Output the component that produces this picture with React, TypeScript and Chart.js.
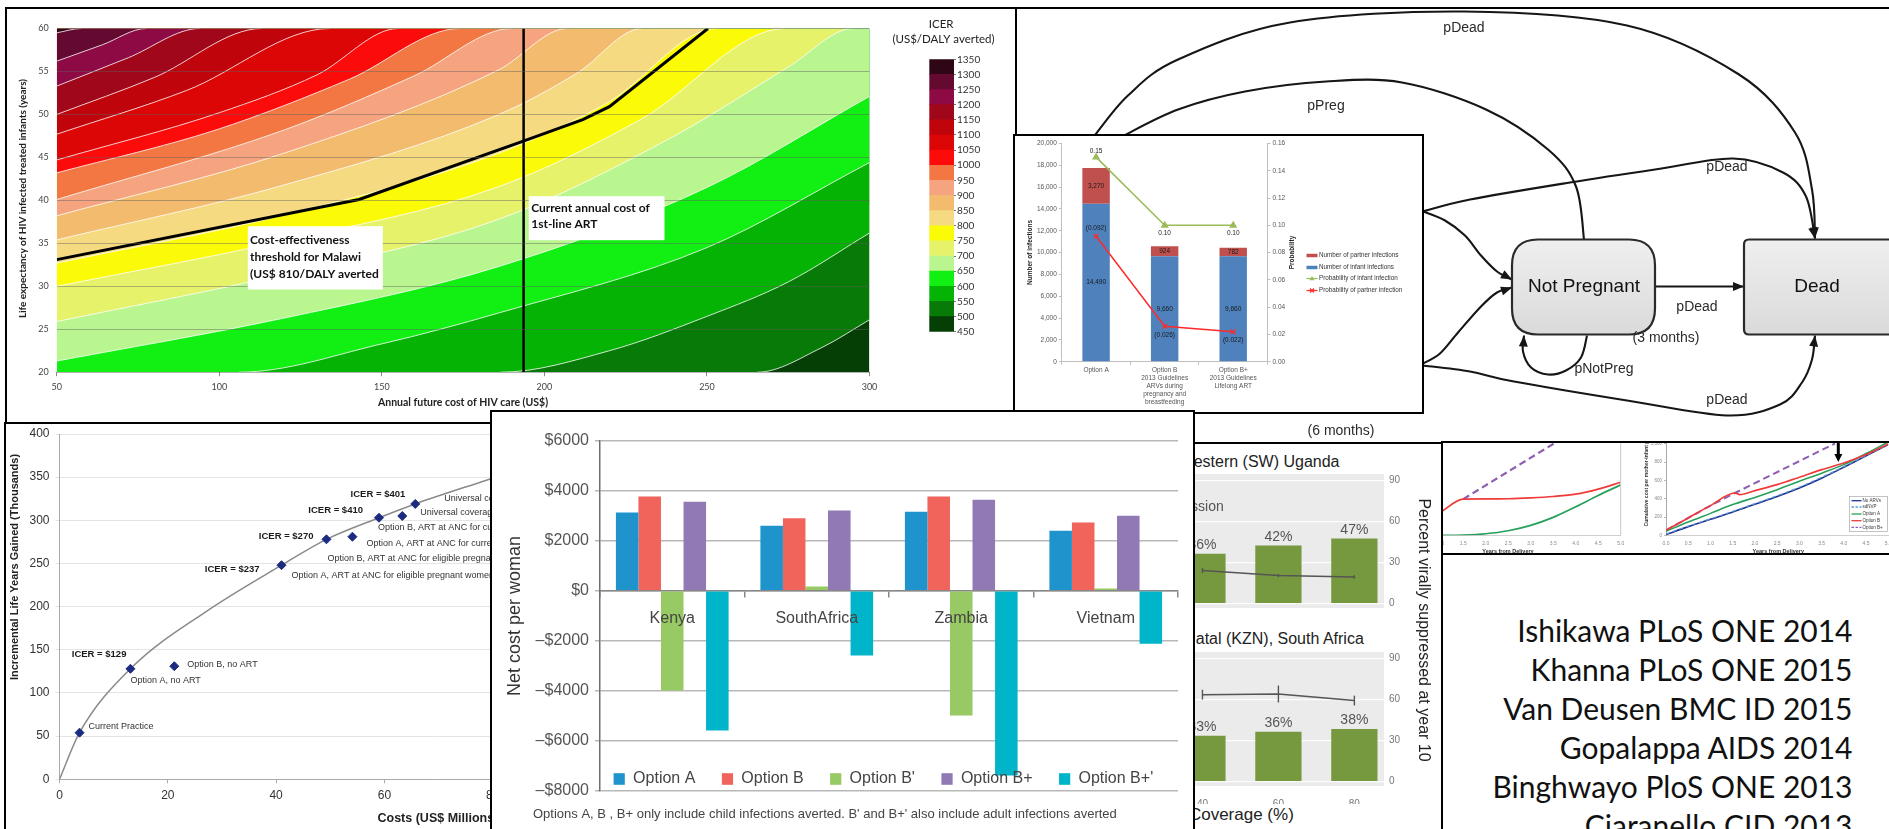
import React, { useEffect, useRef } from 'react';
import { Chart, registerables } from 'chart.js';

Chart.register(...registerables);
Chart.defaults.font.family = "'Liberation Sans', Arial, Helvetica, sans-serif";

/* ======================= DATA ======================= */

// Panel 1 – Malawi ICER contour map
const costTicks = [50, 100, 150, 200, 250, 300];
const lifeExpTicks = [20, 25, 30, 35, 40, 45, 50, 55, 60];
const icerTicks = [450, 500, 550, 600, 650, 700, 750, 800, 850, 900, 950, 1000, 1050, 1100, 1150, 1200, 1250, 1300, 1350];
const icerBandLows = [450, 500, 550, 600, 650, 700, 750, 800, 850, 900, 950, 1000, 1050, 1100, 1150, 1200, 1250, 1300];
const contour500 = [[265.5, 20], [285, 22.8], [300, 26.1]];
const contour550 = [[186.5, 20], [220, 22.5], [250, 26.5], [275, 30.5], [300, 36.2]];
const contour600 = [[106, 20], [150, 23.3], [186, 26.9], [250, 34.5], [300, 44.4]];
const contour650 = [[50, 21.3], [120, 26.3], [186, 32.3], [250, 41.5], [300, 52.1]];
const contour700 = [[50, 25.9], [120, 31.4], [186, 37.8], [240, 47.5], [275, 55.5], [295, 60]];
const contour750 = [[50, 30], [120, 35.3], [186, 41.6], [230, 49.5], [274, 60]];
const contour800 = [[50, 32.7], [120, 38.3], [186, 45.5], [220, 51.5], [253, 60]];
const contour850 = [[50, 35.4], [120, 41.8], [186, 50], [210, 54.8], [230, 60]];
const contour900 = [[50, 38.2], [120, 45.5], [186, 55.2], [207, 60]];
const contour950 = [[50, 40.1], [120, 48.2], [160, 54.5], [190, 60]];
const contour1000 = [[50, 43.2], [99, 48.2], [140, 54.1], [174, 60]];
const contour1050 = [[50, 44.7], [100, 50.2], [130, 54.6], [155, 60]];
const contour1100 = [[50, 47.7], [90, 52.8], [134, 60]];
const contour1150 = [[50, 50], [80, 54.3], [113, 60]];
const contour1200 = [[50, 53.3], [72, 56.6], [94, 60]];
const contour1250 = [[50, 56.2], [64, 58.1], [77.5, 60]];
const contour1300 = [[50, 59.5], [57.5, 60]];
const contourLines = [contour500, contour550, contour600, contour650, contour700, contour750, contour800, contour850,
  contour900, contour950, contour1000, contour1050, contour1100, contour1150, contour1200, contour1250, contour1300];
const thresholdCost = [50, 143, 193.5, 211.8, 220, 250.3];
const thresholdLifeExp = [33.1, 40.1, 46.9, 49.4, 50.9, 60];
const currentArtCost = 193.6;

// Inset – infections by option
const insetCategories = [['Option A'], ['Option B', '2013 Guidelines', 'ARVs during', 'pregnancy and', 'breastfeeding'], ['Option B+', '2013 Guidelines', 'Lifelong ART']];
const infantInfections = [14490, 9660, 9660];
const partnerInfections = [3270, 924, 782];
const probInfantInfection = [0.15, 0.10, 0.10];
const probPartnerInfection = [0.092, 0.026, 0.022];

// Panel – incremental life years vs cost
const strategyNames = ['Current Practice', 'Option A, no ART', 'Option B, no ART',
  'Option A, ART at ANC for eligible pregnant women', 'Option B, ART at ANC for eligible pregnant women',
  'Option A, ART at ANC for current eligibility', 'Option B, ART at ANC for current eligibility',
  'Universal coverage, Option A', 'Universal coverage, Option B'];
const strategyCost = [3.7, 13.1, 21.2, 41.0, 49.3, 54.1, 59.0, 63.3, 65.7];
const strategyLifeYears = [54, 128, 131, 248, 278, 281, 303, 305, 319];
const frontierCost = [0, 3.7, 13.1, 27, 41.0, 49.3, 59.0, 65.7, 78.4, 82];
const frontierLifeYears = [0, 54, 128, 194, 248, 278, 303, 319, 345.6, 353];
const icerLabels = ['ICER = $129', 'ICER = $237', 'ICER = $270', 'ICER = $410', 'ICER = $401'];
const icerLabelStrategy = [1, 3, 4, 6, 8];

// Panel – net cost per woman
const countries = ['Kenya', 'SouthAfrica', 'Zambia', 'Vietnam'];
const optionA = [3130, 2600, 3160, 2400];
const optionB = [3770, 2900, 3770, 2730];
const optionBPrime = [-3980, 170, -4980, 90];
const optionBPlus = [3560, 3210, 3640, 3000];
const optionBPlusPrime = [-5580, -2580, -7380, -2120];

// Panel – Uganda / KZN coverage
const coverageLevels = [40, 60, 80];
const swUgandaSuppressed = [36, 42, 47];
const swUgandaLine = [23.9, 20.2, 19.2];
const swUgandaErr = [1.8, 1.2, 1.3];
const kznSuppressed = [33, 36, 38];
const kznLine = [63.3, 63.8, 59.0];
const kznErr = [3.6, 6.2, 3.6];

// Panel – cumulative cost curves
const yearsLeft = [1, 1.5, 2, 2.5, 3, 3.5, 4, 4.5, 5];
const leftOptionB = [254, 396, 398, 400, 410, 425, 450, 505, 581];
const leftOptionA = [0, 3, 17, 50, 109, 196, 312, 436, 552];
const leftOptionBPlusYears = [1.5, 3.6];
const leftOptionBPlus = [396, 1030];
const yearsRight = [0, 0.5, 1, 1.5, 2, 2.5, 3, 3.5, 4, 4.5, 5];
const rightNoARVs = [8, 95, 175, 255, 340, 425, 518, 625, 745, 870, 993];
const rightSdNVP = [15, 100, 180, 262, 347, 433, 527, 635, 752, 875, 995];
const rightOptionA = [45, 145, 240, 336, 415, 500, 591, 680, 774, 895, 1022];
const rightOptionBYears = [0, 0.5, 1, 1.55, 1.66, 2, 2.5, 3, 3.5, 4, 4.5, 5];
const rightOptionB = [55, 190, 325, 463, 445, 489, 555, 635, 719, 792, 885, 1000];
const rightOptionBPlusYears = [0, 0.5, 1, 1.55, 3.8];
const rightOptionBPlus = [55, 190, 325, 463, 1005];
const yearTicks = [0, 0.5, 1, 1.5, 2, 2.5, 3, 3.5, 4, 4.5, 5];

// Citations
const citations = ['Ishikawa PLoS ONE 2014', 'Khanna PLoS ONE 2015', 'Van Deusen BMC ID 2015',
  'Gopalappa AIDS 2014', 'Binghwayo PloS ONE 2013', 'Ciaranello CID 2013'];

/* ======================= STYLES / LAYOUT ======================= */

const BAND_COLORS = ['#063f06', '#077a07', '#05b305', '#12ef12', '#b9f68f', '#e6f26a', '#fbfb08', '#f6da82', '#f3bb6e',
  '#f6a480', '#f27742', '#fc0b0b', '#dc0606', '#c0040c', '#a0071a', '#8d0a45', '#640a30', '#2e0616'];
const OPTION_COLORS = ['#1f93cc', '#f0645c', '#97c965', '#9179b5', '#00b5c9'];
const BW = 2.5;
const P_HEAT = { x: 5, y: 7, w: 1012, h: 417 };
const P_DIAG = { x: 1014.5, y: 7, w: 880, h: 437 };
const P_INSET = { x: 1013, y: 134, w: 411, h: 280 };
const P_SCAT = { x: 4, y: 421.5, w: 500, h: 420 };
const P_BAR = { x: 489.5, y: 409.5, w: 705, h: 430 };
const P_UG = { x: 1192, y: 441.5, w: 252, h: 400 };
const P_LINE = { x: 1441, y: 441, w: 455, h: 114 };
const P_TEXT = { x: 1441, y: 552.5, w: 455, h: 290 };

const O_HEAT = { x: 7.5, y: 9.5 };
const O_CBAR = { x: 925, y: 50 };
const O_DIAG = { x: 1017, y: 9.5 };
const O_INSET = { x: 1015.5, y: 136.5 };
const O_SCAT = { x: 6.5, y: 424 };
const O_BAR = { x: 492, y: 412 };
const O_UG_TOP = { x: 1060, y: 474 };
const O_UG_BOT = { x: 1060, y: 652.7 };
const O_LL = { x: 1380, y: 420 };
const O_LR = { x: 1625, y: 420 };

const strategyLabelOffsets = [[9, -6], [0, 12], [13, -2], [10, 10], [1, 19], [14, 7], [-1, 10], [18, -3], [29, -5]];
const icerLabelOffsets = [[-4, -14], [-22, 4], [-13, -3], [-16, -7], [-10, -10]];

/* ======================= HELPERS ======================= */

function noPad(s: any) { s.paddingLeft = 0; s.paddingRight = 0; s.paddingTop = 0; s.paddingBottom = 0; }
const fixWidth = (w: number) => (s: any) => { s.width = w; noPad(s); };
const fixHeight = (h: number) => (s: any) => { s.height = h; noPad(s); };
const setTicks = (vals: number[]) => (s: any) => { s.ticks = vals.map((v) => ({ value: v })); };

function drawText(ctx: any, text: string, x: number, y: number, font: string, color: string,
  align = 'left', baseline = 'middle', rotate = 0) {
  ctx.save();
  ctx.font = font; ctx.fillStyle = color; ctx.textAlign = align; ctx.textBaseline = baseline;
  ctx.translate(x, y);
  if (rotate) ctx.rotate(rotate);
  ctx.fillText(text, 0, 0);
  ctx.restore();
}
function pageCtx(chart: any, o: any) { const ctx = chart.ctx; ctx.save(); ctx.translate(-o.x, -o.y); return ctx; }

const baseOptions = {
  responsive: false, maintainAspectRatio: false, animation: false, events: [],
  plugins: { legend: { display: false }, tooltip: { enabled: false }, title: { display: false } },
};

function spline(ctx: any, pts: number[][]) {
  ctx.moveTo(pts[0][0], pts[0][1]);
  for (let i = 0; i < pts.length - 1; i++) {
    const p0 = pts[i - 1] || pts[i], p1 = pts[i], p2 = pts[i + 1], p3 = pts[i + 2] || p2;
    ctx.bezierCurveTo(p1[0] + (p2[0] - p0[0]) / 6, p1[1] + (p2[1] - p0[1]) / 6,
      p2[0] - (p3[0] - p1[0]) / 6, p2[1] - (p3[1] - p1[1]) / 6, p2[0], p2[1]);
  }
}
function arrowHead(ctx: any, tip: number[], from: number[], len = 11, half = 4.5) {
  const a = Math.atan2(tip[1] - from[1], tip[0] - from[0]);
  const bx = tip[0] - len * Math.cos(a), by = tip[1] - len * Math.sin(a);
  ctx.beginPath();
  ctx.moveTo(tip[0], tip[1]);
  ctx.lineTo(bx + half * Math.sin(a), by - half * Math.cos(a));
  ctx.lineTo(bx - half * Math.sin(a), by + half * Math.cos(a));
  ctx.closePath();
  ctx.fill();
}
function roundRectPath(ctx: any, x: number, y: number, w: number, h: number, r: number) {
  ctx.beginPath();
  ctx.moveTo(x + r, y); ctx.lineTo(x + w - r, y); ctx.quadraticCurveTo(x + w, y, x + w, y + r);
  ctx.lineTo(x + w, y + h - r); ctx.quadraticCurveTo(x + w, y + h, x + w - r, y + h);
  ctx.lineTo(x + r, y + h); ctx.quadraticCurveTo(x, y + h, x, y + h - r);
  ctx.lineTo(x, y + r); ctx.quadraticCurveTo(x, y, x + r, y); ctx.closePath();
}

/* ======================= PANEL 1: contour map ======================= */

const edgeSeg = (c: any) => {
  const a = c.p0.parsed, b = c.p1.parsed;
  if ((a.y >= 60 && b.y >= 60) || (a.y <= 20 && b.y <= 20)) return 'rgba(0,0,0,0)';
  return undefined;
};

const heatPlugin = {
  id: 'heatNotes',
  afterDraw(chart: any) {
    const ctx = pageCtx(chart, O_HEAT);
    drawText(ctx, 'Life expectancy of HIV infected treated infants (years)', 23, 199, 'bold 10px Lato', '#222', 'center', 'middle', -Math.PI / 2);
    drawText(ctx, 'Annual future cost of HIV care (US$)', 463.5, 403, 'bold 10.5px Lato', '#222', 'center');
    ctx.fillStyle = '#fff';
    ctx.fillRect(248.3, 226.7, 135, 63.3);
    ['Cost-effectiveness', 'threshold for Malawi', '(US$ 810/DALY averted'].forEach((t, i) =>
      drawText(ctx, t, 250.5, 241 + i * 16.7, 'bold 12px Lato', '#111'));
    ctx.fillStyle = '#fff';
    ctx.fillRect(529.3, 196.7, 135.7, 44);
    ['Current annual cost of', '1st-line ART'].forEach((t, i) =>
      drawText(ctx, t, 531.7, 208.7 + i * 16.3, 'bold 12px Lato', '#111'));
    drawText(ctx, 'ICER', 941.7, 25, '11.5px Lato', '#222', 'center');
    drawText(ctx, '(US$/DALY averted)', 944, 40, '11.5px Lato', '#222', 'center');
    ctx.restore();
  },
};

function heatmapConfig() {
  const ds: any[] = [];
  ds.push({ data: [{ x: 50, y: 20 }, { x: 300, y: 20 }], fill: 'end', backgroundColor: BAND_COLORS[0], borderWidth: 0, pointRadius: 0, order: 9000 });
  contourLines.forEach((pts, i) => {
    const level = icerBandLows[i + 1];
    const d = pts.map((p) => ({ x: p[0], y: p[1] }));
    if (d[0].y <= 20 && d[0].x > 50) d.unshift({ x: 50, y: 20 });
    const last = d[d.length - 1];
    if (last.y >= 60 && last.x < 300) d.push({ x: 300, y: 60 });
    ds.push({
      data: d, fill: 'end', backgroundColor: BAND_COLORS[i + 1], borderColor: BAND_COLORS[i + 1], borderWidth: 0,
      pointRadius: 0, cubicInterpolationMode: 'monotone', order: 5000 - level,
    });
    ds.push({
      data: d.map((p) => ({ ...p })), fill: false, borderColor: 'rgba(255,255,255,0.8)', borderWidth: 1,
      pointRadius: 0, cubicInterpolationMode: 'monotone', order: 3, segment: { borderColor: edgeSeg },
    });
  });
  ds.push({ data: thresholdCost.map((x, i) => ({ x, y: thresholdLifeExp[i] })), borderColor: '#000', borderWidth: 3, pointRadius: 0, fill: false, order: 2 });
  ds.push({ data: [{ x: currentArtCost, y: 20 }, { x: currentArtCost, y: 60 }], borderColor: '#000', borderWidth: 2.5, pointRadius: 0, fill: false, order: 1 });
  return {
    type: 'line',
    data: { datasets: ds },
    options: {
      ...baseOptions,
      layout: { padding: { top: 19.5, right: 144.5, left: 0, bottom: 0 } },
      scales: {
        x: {
          type: 'linear', min: 50, max: 300, afterBuildTicks: setTicks(costTicks),
          ticks: { font: { family: 'Lato', size: 9 }, color: '#444', padding: 5.5 },
          grid: { drawOnChartArea: false, tickLength: 4, color: '#888' }, border: { display: false },
          afterFit: fixHeight(48.8),
        },
        y: {
          type: 'linear', min: 20, max: 60, afterBuildTicks: setTicks(lifeExpTicks),
          ticks: { font: { family: 'Lato', size: 9 }, color: '#444', padding: 8 },
          grid: { color: 'rgba(95,95,95,0.45)', drawTicks: false, z: 1 }, border: { display: false },
          afterFit: fixWidth(49.8),
        },
      },
    },
    plugins: [heatPlugin],
  };
}

function colorbarConfig() {
  return {
    type: 'bar',
    data: {
      labels: ['ICER'],
      datasets: icerBandLows.map((lo, i) => ({
        label: `${lo}-${lo + 50}`, data: [[lo, lo + 50]], backgroundColor: BAND_COLORS[i], borderWidth: 0,
        grouped: false, barPercentage: 1, categoryPercentage: 1,
      })),
    },
    options: {
      ...baseOptions,
      layout: { padding: { left: 4.3, top: 9.3, bottom: 8.3, right: 0 } },
      scales: {
        x: { display: false },
        y: {
          position: 'right', min: 450, max: 1350, afterBuildTicks: setTicks(icerTicks),
          ticks: { font: { family: 'Lato', size: 10 }, color: '#333', padding: 1, callback: (v: any) => String(v) },
          grid: { drawOnChartArea: false, tickLength: 2, color: '#777' }, border: { display: false },
          afterFit: fixWidth(51),
        },
      },
    },
  };
}

/* ======================= DIAGRAM ======================= */

const diagramEdges = [
  { pts: [[1094, 137], [1128, 96], [1178, 60], [1290, 23], [1464, 12], [1627, 26], [1739, 75], [1795, 133], [1812, 190], [1815, 239]], arrow: true },
  { pts: [[1122, 137], [1178, 110], [1245, 92], [1326, 82], [1402, 83], [1486, 110], [1548, 150], [1576, 187], [1584, 240]], arrow: false },
  { pts: [[1423, 212], [1470, 200], [1570, 183], [1655, 170], [1733, 159], [1783, 173], [1806, 197], [1815, 239]], arrow: true },
  { pts: [[1423, 212], [1445, 221], [1465, 236], [1481, 256], [1497, 272], [1512, 280]], arrow: true },
  { pts: [[1423, 364], [1440, 354], [1458, 333], [1481, 307], [1497, 293], [1512, 288]], arrow: true },
  { pts: [[1656, 287], [1744, 287]], arrow: true },
  { pts: [[1423, 366], [1470, 372], [1514, 382], [1627, 401], [1727, 416], [1780, 405], [1802, 383], [1812, 360], [1815, 336]], arrow: true },
  { pts: [[1587, 336], [1581, 358], [1566, 371], [1548, 375], [1531, 368], [1523, 352], [1524, 336]], arrow: true },
];
const diagramLabels: any[] = [['pDead', 1464, 29], ['pPreg', 1326, 107], ['pDead', 1727, 168], ['pDead', 1697, 308],
  ['(3 months)', 1666, 339], ['pNotPreg', 1604, 370], ['pDead', 1727, 401], ['(6 months)', 1341, 432]];
const stateBoxes = [
  { label: 'Not Pregnant', x: 1512, y: 240, w: 143, h: 95, r: 26, tx: 1584 },
  { label: 'Dead', x: 1744, y: 240, w: 160, h: 95, r: 5, tx: 1817 },
];

const diagramPlugin = {
  id: 'diagram',
  afterDraw(chart: any) {
    const ctx = pageCtx(chart, O_DIAG);
    ctx.strokeStyle = '#161616'; ctx.fillStyle = '#161616'; ctx.lineWidth = 2.1; ctx.lineCap = 'butt';
    diagramEdges.forEach((e) => {
      ctx.beginPath(); spline(ctx, e.pts); ctx.stroke();
      if (e.arrow) arrowHead(ctx, e.pts[e.pts.length - 1], e.pts[e.pts.length - 2]);
    });
    stateBoxes.forEach((b) => {
      const g = ctx.createLinearGradient(0, b.y, 0, b.y + b.h);
      g.addColorStop(0, '#efefef'); g.addColorStop(1, '#dadada');
      roundRectPath(ctx, b.x, b.y, b.w, b.h, b.r);
      ctx.fillStyle = g; ctx.fill();
      ctx.lineWidth = 2.2; ctx.strokeStyle = '#2a2a2a'; ctx.stroke();
      drawText(ctx, b.label, b.tx, b.y + b.h / 2, '19px Liberation Sans', '#111', 'center');
    });
    diagramLabels.forEach((l) => drawText(ctx, l[0], l[1], l[2], '14px Liberation Sans', '#2a2a2a', 'center'));
    ctx.restore();
  },
};
function diagramConfig() {
  return { type: 'scatter', data: { datasets: [] }, options: { ...baseOptions, scales: { x: { display: false }, y: { display: false } } }, plugins: [diagramPlugin] };
}

/* ======================= INSET ======================= */

const fmtInt = (v: number) => v.toLocaleString('en-US');
const greenLabelDy = [-6, 8, 8];
const redLabelDy = [-8, 9, 8];
const insetPlugin = {
  id: 'insetNotes',
  afterDraw(chart: any) {
    const ctx = chart.ctx;
    const f = '6.5px Liberation Sans';
    const green = chart.getDatasetMeta(0).data, redL = chart.getDatasetMeta(1).data;
    const blue = chart.getDatasetMeta(2).data, red = chart.getDatasetMeta(3).data;
    blue.forEach((b: any, i: number) => drawText(ctx, fmtInt(infantInfections[i]), b.x, (b.y + b.base) / 2, f, '#1a1a1a', 'center'));
    red.forEach((b: any, i: number) => drawText(ctx, fmtInt(partnerInfections[i]), b.x, (b.y + b.base) / 2, f, '#1a1a1a', 'center'));
    green.forEach((p: any, i: number) => drawText(ctx, probInfantInfection[i].toFixed(2), p.x, p.y + greenLabelDy[i], f, '#1a1a1a', 'center'));
    redL.forEach((p: any, i: number) => drawText(ctx, `(${probPartnerInfection[i].toFixed(3)})`, p.x, p.y + redLabelDy[i], f, '#1a1a1a', 'center'));
    const pc = pageCtx(chart, O_INSET);
    drawText(pc, 'Number of infections', 1031, 253, 'bold 6.5px Liberation Sans', '#222', 'center', 'middle', -Math.PI / 2);
    drawText(pc, 'Probability', 1293, 253, 'bold 6.5px Liberation Sans', '#222', 'center', 'middle', -Math.PI / 2);
    const items = [
      { ds: 3, kind: 'bar', y: 256 }, { ds: 2, kind: 'bar', y: 268 },
      { ds: 0, kind: 'tri', y: 279 }, { ds: 1, kind: 'x', y: 291 },
    ];
    items.forEach((it) => {
      const d = chart.data.datasets[it.ds];
      const col = it.kind === 'bar' ? d.backgroundColor : d.borderColor;
      pc.strokeStyle = col; pc.fillStyle = col;
      pc.lineWidth = it.kind === 'bar' ? 3.5 : 1.2;
      pc.beginPath(); pc.moveTo(1307, it.y); pc.lineTo(1318, it.y); pc.stroke();
      if (it.kind === 'tri') { pc.beginPath(); pc.moveTo(1312.5, it.y - 2.5); pc.lineTo(1315, it.y + 1.8); pc.lineTo(1310, it.y + 1.8); pc.closePath(); pc.fill(); }
      if (it.kind === 'x') { pc.beginPath(); pc.moveTo(1310.5, it.y - 2); pc.lineTo(1314.5, it.y + 2); pc.moveTo(1314.5, it.y - 2); pc.lineTo(1310.5, it.y + 2); pc.stroke(); }
      drawText(pc, d.label, 1319.5, it.y, '6.3px Liberation Sans', '#333');
    });
    pc.restore();
  },
};
function insetConfig() {
  return {
    type: 'bar',
    data: {
      labels: insetCategories,
      datasets: [
        { type: 'line', label: 'Probability of infant infection', data: probInfantInfection, yAxisID: 'y2', borderColor: '#9bbb59', backgroundColor: '#9bbb59', borderWidth: 1.5, pointStyle: 'triangle', pointRadius: 3.2, order: 0 },
        { type: 'line', label: 'Probability of partner infection', data: probPartnerInfection, yAxisID: 'y2', borderColor: '#ff2a2a', backgroundColor: '#ff2a2a', borderWidth: 1.5, pointStyle: 'crossRot', pointRadius: 3.2, pointBorderWidth: 1.3, order: 0 },
        { label: 'Number of infant infections', data: infantInfections, backgroundColor: '#4f81bd', stack: 's', order: 1, barPercentage: 0.4, categoryPercentage: 1 },
        { label: 'Number of partner infections', data: partnerInfections, backgroundColor: '#c0504d', stack: 's', order: 1, barPercentage: 0.4, categoryPercentage: 1 },
      ],
    },
    options: {
      ...baseOptions,
      layout: { padding: { top: 7.5, left: 0, right: 0, bottom: 0 } },
      scales: {
        x: {
          stacked: true, ticks: { font: { size: 6.5 }, color: '#555', padding: 2, autoSkip: false, maxRotation: 0 },
          grid: { drawOnChartArea: false, tickLength: 3, color: '#bfbfbf', offset: true }, border: { color: '#bfbfbf' },
          afterFit: fixHeight(49.2),
        },
        y: {
          stacked: true, min: 0, max: 20000, ticks: { stepSize: 2000, font: { size: 6.5 }, color: '#555', padding: 2, autoSkip: false, callback: (v: any) => fmtInt(Number(v)) },
          grid: { drawOnChartArea: false, tickLength: 3, color: '#bfbfbf' }, border: { color: '#bfbfbf' },
          afterFit: fixWidth(46.8),
        },
        y2: {
          position: 'right', min: 0, max: 0.16, ticks: { stepSize: 0.02, font: { size: 6.5 }, color: '#555', padding: 2, autoSkip: false, callback: (v: any) => Number(v).toFixed(2) },
          grid: { drawOnChartArea: false, tickLength: 3, color: '#bfbfbf' }, border: { color: '#bfbfbf' },
          afterFit: fixWidth(153.5),
        },
      },
    },
    plugins: [insetPlugin],
  };
}

/* ======================= SCATTER (life years) ======================= */

const scatPlugin = {
  id: 'scatNotes',
  afterDraw(chart: any) {
    const ctx = chart.ctx;
    const pts = chart.getDatasetMeta(1).data;
    pts.forEach((p: any, i: number) => {
      const [dx, dy] = strategyLabelOffsets[i];
      drawText(ctx, strategyNames[i], p.x + dx, p.y + dy, '9px Liberation Sans', '#333');
    });
    icerLabels.forEach((t, k) => {
      const p = pts[icerLabelStrategy[k]];
      const [dx, dy] = icerLabelOffsets[k];
      drawText(ctx, t, p.x + dx, p.y + dy, 'bold 9.5px Liberation Sans', '#1a1a1a', 'right');
    });
    const pc = pageCtx(chart, O_SCAT);
    drawText(pc, 'Incremental Life Years Gained (Thousands)', 15, 567, 'bold 11px Liberation Sans', '#222', 'center', 'middle', -Math.PI / 2);
    drawText(pc, 'Costs (US$ Millions)', 378, 819, 'bold 12.5px Liberation Sans', '#222', 'left');
    pc.restore();
  },
};
function scatterConfig() {
  return {
    type: 'scatter',
    data: {
      datasets: [
        { type: 'line', data: frontierCost.map((x, i) => ({ x, y: frontierLifeYears[i] })), borderColor: '#8a8a8a', borderWidth: 1.5, pointRadius: 0, cubicInterpolationMode: 'monotone', order: 2 },
        { data: strategyCost.map((x, i) => ({ x, y: strategyLifeYears[i] })), pointStyle: 'rectRot', pointRadius: 4.5, backgroundColor: '#1c2b80', borderColor: '#1c2b80', order: 1 },
      ],
    },
    options: {
      ...baseOptions,
      layout: { padding: { top: 10, right: 28.4, left: 0, bottom: 0 } },
      scales: {
        x: {
          type: 'linear', min: 0, max: 140, ticks: { stepSize: 20, font: { size: 12 }, color: '#333', padding: 5 },
          grid: { drawOnChartArea: false, tickLength: 4, color: '#aaa' }, border: { color: '#aaa' }, afterFit: fixHeight(49.7),
        },
        y: {
          min: 0, max: 400, ticks: { stepSize: 50, font: { size: 12 }, color: '#333', padding: 6 },
          grid: { color: '#e4e4e4', tickLength: 4 }, border: { color: '#aaa' }, afterFit: fixWidth(53.5),
        },
      },
    },
    plugins: [scatPlugin],
  };
}

/* ======================= BAR (net cost per woman) ======================= */

const barCaption = "Options A, B , B+ only include child infections averted. B' and B+' also include adult infections averted";
const barPlugin = {
  id: 'barNotes',
  afterDraw(chart: any) {
    const ctx = pageCtx(chart, O_BAR);
    let x = 613.6; const y = 779;
    chart.data.datasets.forEach((ds: any) => {
      ctx.fillStyle = ds.backgroundColor; ctx.fillRect(x, y - 5.8, 11.2, 11.6);
      drawText(ctx, ds.label, x + 19.5, y, '16px Liberation Sans', '#444');
      ctx.font = '16px Liberation Sans';
      x += 19.5 + ctx.measureText(ds.label).width + 26.5;
    });
    drawText(ctx, barCaption, 533, 814, '13px Liberation Sans', '#444');
    drawText(ctx, 'Net cost per woman', 514.7, 616, '18px Liberation Sans', '#333', 'center', 'middle', -Math.PI / 2);
    ctx.restore();
  },
};
function barConfig() {
  const series = [optionA, optionB, optionBPrime, optionBPlus, optionBPlusPrime];
  const labels = ['Option A', 'Option B', "Option B'", 'Option B+', "Option B+'"];
  return {
    type: 'bar',
    data: {
      labels: countries,
      datasets: series.map((s, i) => ({ label: labels[i], data: s, backgroundColor: OPTION_COLORS[i], categoryPercentage: 0.78, barPercentage: 1 })),
    },
    options: {
      ...baseOptions,
      layout: { padding: { top: 28.7, right: 14, bottom: 38, left: 0 } },
      scales: {
        x: {
          position: { y: 0 },
          ticks: { font: { size: 16 }, color: '#444', padding: 12, z: 1 },
          grid: { drawOnChartArea: false, tickLength: 6, color: '#888', lineWidth: 1.5, offset: true },
          border: { color: '#888', width: 1.5 }, afterFit: noPad,
        },
        y: {
          min: -8000, max: 6000,
          ticks: { stepSize: 2000, font: { size: 16 }, color: '#555', padding: 6, callback: (v: any) => (v < 0 ? '\u2013' : '') + '$' + Math.abs(v) },
          grid: { color: '#b8b8b8', lineWidth: 1.5, tickLength: 5 }, border: { color: '#6e6e6e', width: 1.5 },
          afterFit: fixWidth(108),
        },
      },
    },
    plugins: [barPlugin],
  };
}

/* ======================= UGANDA / KZN ======================= */

function ugandaConfig(bars: number[], line: number[], err: number[], withX: boolean) {
  const plugin = {
    id: 'ugNotes',
    beforeDraw(chart: any) {
      const a = chart.chartArea, ctx = chart.ctx;
      ctx.save(); ctx.fillStyle = '#ebebeb'; ctx.fillRect(a.left, a.top, a.right - a.left, a.bottom - a.top); ctx.restore();
    },
    afterDatasetsDraw(chart: any) {
      const ctx = chart.ctx, ys = chart.scales.y;
      const lp = chart.getDatasetMeta(0).data;
      ctx.save(); ctx.strokeStyle = '#555'; ctx.lineWidth = 1.4;
      lp.forEach((p: any, i: number) => {
        ctx.beginPath(); ctx.moveTo(p.x, ys.getPixelForValue(line[i] - err[i])); ctx.lineTo(p.x, ys.getPixelForValue(line[i] + err[i])); ctx.stroke();
      });
      ctx.restore();
      chart.getDatasetMeta(1).data.forEach((b: any, i: number) => drawText(ctx, `${bars[i]}%`, b.x, b.y - 9, '14px Liberation Sans', '#555', 'center'));
    },
  };
  return {
    type: 'bar',
    data: {
      datasets: [
        { type: 'line', data: coverageLevels.map((x, i) => ({ x, y: line[i] })), borderColor: '#555', borderWidth: 1.5, pointRadius: 0, order: 0 },
        { type: 'bar', data: coverageLevels.map((x, i) => ({ x, y: bars[i] })), backgroundColor: '#76983e', barThickness: 45.6, order: 1 },
      ],
    },
    options: {
      ...baseOptions,
      layout: { padding: 0 },
      scales: {
        x: withX ? {
          type: 'linear', min: 2.5, max: 87.8, offset: false, afterBuildTicks: setTicks(coverageLevels),
          ticks: { font: { size: 10 }, color: '#777', padding: 4 }, grid: { display: false }, border: { display: false },
          afterFit: fixHeight(18),
        } : { type: 'linear', min: 2.5, max: 87.8, offset: false, display: false },
        y: {
          position: 'right', min: -3.5, max: 94.5, afterBuildTicks: setTicks([0, 30, 60, 90]),
          ticks: { font: { size: 10 }, color: '#777', padding: 5 },
          grid: { color: 'rgba(255,255,255,0.9)', lineWidth: 1.2, drawTicks: false }, border: { display: false },
          afterFit: fixWidth(36),
        },
      },
    },
    plugins: [plugin],
  };
}

/* ======================= CUMULATIVE COST LINES ======================= */

const xy = (xs: number[], ys: number[]) => xs.map((x, i) => ({ x, y: ys[i] }));
const leftLinesPlugin = {
  id: 'leftLines',
  afterDraw(chart: any) {
    const a = chart.chartArea, ctx = chart.ctx;
    ctx.save(); ctx.strokeStyle = '#c8c8c8'; ctx.lineWidth = 1;
    ctx.beginPath(); ctx.moveTo(a.right, a.top); ctx.lineTo(a.right, a.bottom); ctx.stroke(); ctx.restore();
    const pc = pageCtx(chart, O_LL);
    drawText(pc, 'Years from Delivery', 1508, 551, 'bold 5.5px Liberation Sans', '#333', 'center');
    pc.restore();
  },
};
function leftLinesConfig() {
  return {
    type: 'line',
    data: {
      datasets: [
        { label: 'Option B+', data: xy(leftOptionBPlusYears, leftOptionBPlus), borderColor: '#8e5fb0', borderDash: [7, 4], borderWidth: 2.2, pointRadius: 0, order: 3 },
        { label: 'Option A', data: xy(yearsLeft, leftOptionA), borderColor: '#26a05a', borderWidth: 1.7, pointRadius: 0, cubicInterpolationMode: 'monotone', order: 2 },
        { label: 'Option B', data: xy(yearsLeft, leftOptionB), borderColor: '#f03a3a', borderWidth: 1.7, pointRadius: 0, cubicInterpolationMode: 'monotone', order: 1 },
      ],
    },
    options: {
      ...baseOptions,
      layout: { padding: { top: 5.7, right: 9.3, left: 0, bottom: 0 } },
      scales: {
        x: {
          type: 'linear', min: 0, max: 5, afterBuildTicks: setTicks(yearTicks),
          ticks: { font: { size: 5 }, color: '#888', padding: 5.5, callback: (v: any) => Number(v).toFixed(1) },
          grid: { drawOnChartArea: false, drawTicks: false }, border: { color: '#cfcfcf' }, afterFit: fixHeight(19.7),
        },
        y: { min: 0, max: 1200, ticks: { display: false }, grid: { display: false }, border: { display: false }, afterFit: fixWidth(15.7) },
      },
    },
    plugins: [leftLinesPlugin],
  };
}
const rightLinesPlugin = {
  id: 'rightLines',
  afterDraw(chart: any) {
    const pc = pageCtx(chart, O_LR);
    drawText(pc, 'Cumulative cost per mother-infant pair', 1646.7, 480.5, 'bold 5px Liberation Sans', '#333', 'center', 'middle', -Math.PI / 2);
    drawText(pc, 'Years from Delivery', 1778.3, 551, 'bold 5.5px Liberation Sans', '#333', 'center');
    pc.fillStyle = '#fff'; pc.fillRect(1849.3, 496.3, 38, 35);
    pc.strokeStyle = '#999'; pc.lineWidth = 0.6; pc.strokeRect(1849.3, 496.3, 38, 35);
    const rows = [500.7, 507, 514, 520.7, 527.3];
    chart.data.datasets.slice().reverse().forEach((d: any, i: number) => {
      pc.save(); pc.strokeStyle = d.borderColor; pc.lineWidth = 1.3; pc.setLineDash(d.borderDash ? [2.5, 1.5] : []);
      pc.beginPath(); pc.moveTo(1851.5, rows[i]); pc.lineTo(1861.5, rows[i]); pc.stroke(); pc.restore();
      drawText(pc, d.label, 1862.5, rows[i], '4.5px Liberation Sans', '#333');
    });
    pc.strokeStyle = '#000'; pc.fillStyle = '#000'; pc.lineWidth = 3;
    pc.beginPath(); pc.moveTo(1838.3, 443); pc.lineTo(1838.3, 455); pc.stroke();
    arrowHead(pc, [1838.3, 462], [1838.3, 450], 8, 4);
    pc.restore();
  },
};
function rightLinesConfig() {
  return {
    type: 'line',
    data: {
      datasets: [
        { label: 'Option B+', data: xy(rightOptionBPlusYears, rightOptionBPlus), borderColor: '#8e5fb0', borderDash: [7, 4], borderWidth: 2, pointRadius: 0, order: 5 },
        { label: 'Option B', data: xy(rightOptionBYears, rightOptionB), borderColor: '#f03a3a', borderWidth: 1.6, pointRadius: 0, cubicInterpolationMode: 'monotone', order: 1 },
        { label: 'Option A', data: xy(yearsRight, rightOptionA), borderColor: '#26a05a', borderWidth: 1.6, pointRadius: 0, cubicInterpolationMode: 'monotone', order: 2 },
        { label: 'sdNVP', data: xy(yearsRight, rightSdNVP), borderColor: '#5b9bd5', borderDash: [4, 3], borderWidth: 1.2, pointRadius: 0, cubicInterpolationMode: 'monotone', order: 3 },
        { label: 'No ARVs', data: xy(yearsRight, rightNoARVs), borderColor: '#1f2f8f', borderWidth: 1.6, pointRadius: 0, cubicInterpolationMode: 'monotone', order: 4 },
      ],
    },
    options: {
      ...baseOptions,
      layout: { padding: { top: 5.7, right: 0.7, left: 0, bottom: 0 } },
      scales: {
        x: {
          type: 'linear', min: 0, max: 5, afterBuildTicks: setTicks(yearTicks),
          ticks: { font: { size: 5 }, color: '#888', padding: 5.5, callback: (v: any) => Number(v).toFixed(1) },
          grid: { drawOnChartArea: false, drawTicks: false }, border: { color: '#cfcfcf' }, afterFit: fixHeight(19.7),
        },
        y: {
          min: 0, max: 1200, afterBuildTicks: setTicks([0, 200, 400, 600, 800, 1000, 1200]),
          ticks: { font: { size: 4.5 }, color: '#888', padding: 2 },
          grid: { drawOnChartArea: false, tickLength: 2, color: '#bbb' }, border: { color: '#aaa' }, afterFit: fixWidth(41),
        },
      },
    },
    plugins: [rightLinesPlugin],
  };
}

/* ======================= COMPONENTS ======================= */

function ChartCanvas({ x, y, w, h, make }: any) {
  const ref = useRef<HTMLCanvasElement>(null);
  useEffect(() => {
    const chart = new Chart(ref.current as any, make());
    return () => chart.destroy();
  }, []);
  return <canvas ref={ref} width={w} height={h} style={{ position: 'absolute', left: x, top: y, width: w, height: h }} />;
}

function Panel({ r, z, children }: any) {
  return (
    <div style={{ position: 'absolute', left: r.x, top: r.y, width: r.w, height: r.h, border: `${BW}px solid #000`, boxSizing: 'border-box', background: '#fff', overflow: 'hidden', zIndex: z }}>
      {children}
    </div>
  );
}

const lp = (o: any, p: any) => ({ x: o.x - (p.x + BW), y: o.y - (p.y + BW) });

export default function App() {
  const cb = lp(O_CBAR, P_HEAT);
  const ut = lp(O_UG_TOP, P_UG), ub = lp(O_UG_BOT, P_UG);
  const ll = lp(O_LL, P_LINE), lr = lp(O_LR, P_LINE);
  const ugText: any = { position: 'absolute', whiteSpace: 'nowrap', fontFamily: "'Liberation Sans', Arial, sans-serif", color: '#222' };
  return (
    <div style={{ position: 'absolute', left: 0, top: 0, width: 1889, height: 829, overflow: 'hidden', background: '#fff' }}>
      <Panel r={P_HEAT} z={1}>
        <ChartCanvas x={0} y={0} w={1007} h={412} make={heatmapConfig} />
        <ChartCanvas x={cb.x} y={cb.y} w={80} h={290} make={colorbarConfig} />
      </Panel>
      <Panel r={P_DIAG} z={1}>
        <ChartCanvas x={0} y={0} w={875} h={432} make={diagramConfig} />
      </Panel>
      <Panel r={P_INSET} z={2}>
        <ChartCanvas x={0} y={0} w={406} h={275} make={insetConfig} />
      </Panel>
      <Panel r={P_SCAT} z={3}>
        <ChartCanvas x={0} y={0} w={840} h={405} make={scatterConfig} />
      </Panel>
      <Panel r={P_UG} z={3}>
        <ChartCanvas x={ut.x} y={ut.y} w={360} h={134} make={() => ugandaConfig(swUgandaSuppressed, swUgandaLine, swUgandaErr, false)} />
        <ChartCanvas x={ub.x} y={ub.y} w={360} h={152} make={() => ugandaConfig(kznSuppressed, kznLine, kznErr, true)} />
        <div style={{ ...ugText, right: 102.5, top: 8, fontSize: 16, lineHeight: '20px' }}>Southwestern (SW) Uganda</div>
        <div style={{ ...ugText, right: 218.2, top: 52, fontSize: 14, lineHeight: '20px', color: '#555' }}>Transmission</div>
        <div style={{ ...ugText, right: 78.2, top: 185, fontSize: 16, lineHeight: '20px' }}>KwaZulu-Natal (KZN), South Africa</div>
        <div style={{ ...ugText, right: 148.2, top: 360.5, fontSize: 17, lineHeight: '21px' }}>Coverage (%)</div>
        <div style={{ ...ugText, left: 69.5, top: 176, width: 320, height: 20, lineHeight: '20px', fontSize: 16, textAlign: 'center', transform: 'rotate(90deg)' }}>Percent virally suppressed at year 10</div>
      </Panel>
      <Panel r={P_BAR} z={4}>
        <ChartCanvas x={0} y={0} w={700} h={417} make={barConfig} />
      </Panel>
      <Panel r={P_LINE} z={4}>
        <ChartCanvas x={ll.x} y={ll.y} w={250} h={135} make={leftLinesConfig} />
        <ChartCanvas x={lr.x} y={lr.y} w={264} h={135} make={rightLinesConfig} />
      </Panel>
      <Panel r={P_TEXT} z={4}>
        <div style={{ position: 'absolute', left: 0, top: 56, width: 409.5, textAlign: 'right', fontFamily: 'Lato', fontSize: 30, lineHeight: '39px', color: '#111', whiteSpace: 'nowrap' }}>
          {citations.map((c) => <div key={c}>{c}</div>)}
        </div>
      </Panel>
    </div>
  );
}
